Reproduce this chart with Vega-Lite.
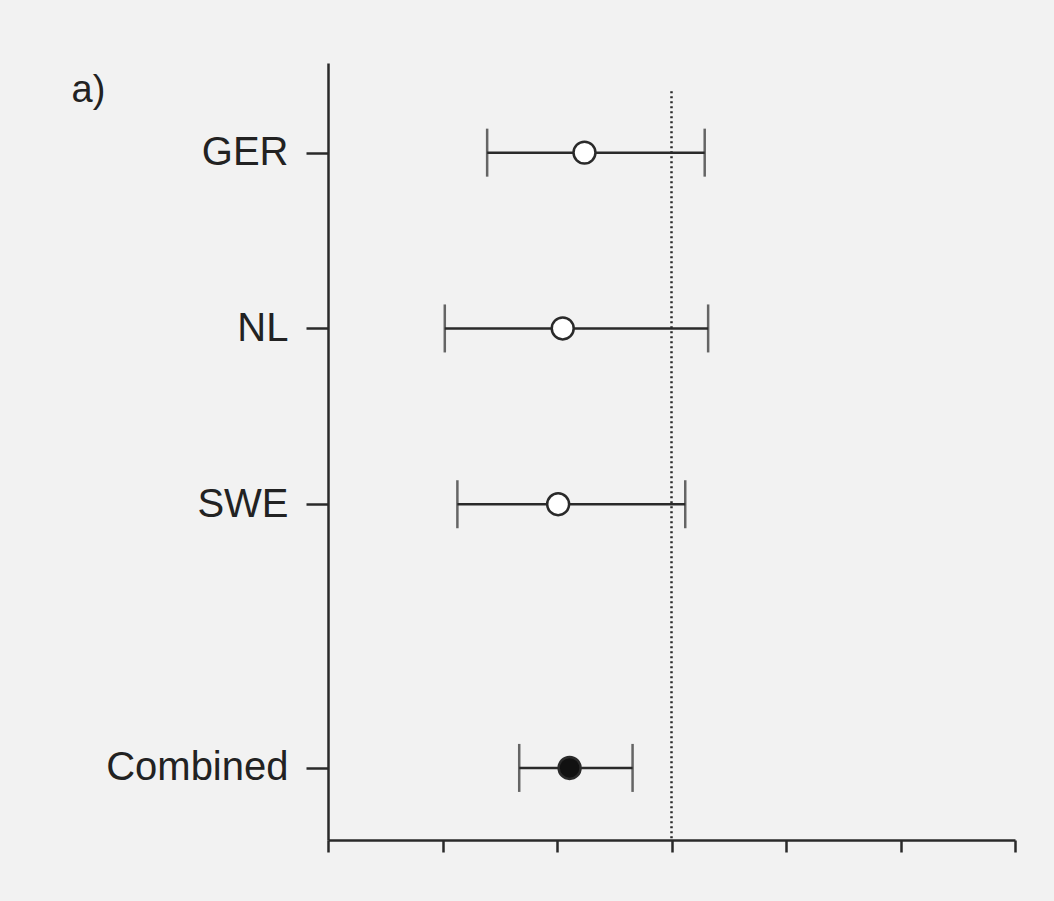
{
  "$schema": "https://vega.github.io/schema/vega-lite/v6.json",
  "autosize": {"type": "none"},
  "width": 687,
  "height": 777,
  "padding": {"left": 328, "top": 63, "right": 39, "bottom": 61},
  "background": "#f2f2f2",
  "config": {
    "view": {"stroke": null},
    "font": "Liberation Sans",
    "axis": {"grid": false, "domainColor": "#2a2a2a", "domainWidth": 2.5, "tickColor": "#2a2a2a", "tickWidth": 2.5}
  },
  "data": {
    "values": [
      {"group": "GER", "row": 3, "lo": 1.39, "est": 2.24, "hi": 3.29, "kind": "single"},
      {"group": "NL", "row": 2, "lo": 1.02, "est": 2.05, "hi": 3.32, "kind": "single"},
      {"group": "SWE", "row": 1, "lo": 1.13, "est": 2.01, "hi": 3.12, "kind": "single"},
      {"group": "Combined", "row": -0.5, "lo": 1.67, "est": 2.11, "hi": 2.66, "kind": "combined"}
    ]
  },
  "layer": [
    {
      "mark": {"type": "rule", "color": "#2a2a2a", "strokeWidth": 2.5},
      "encoding": {
        "x": {
          "field": "lo", "type": "quantitative",
          "scale": {"domain": [0, 6], "nice": false, "zero": false},
          "axis": {"title": null, "values": [0, 1, 2, 3, 4, 5, 6], "labels": false, "tickSize": 12}
        },
        "x2": {"field": "hi"},
        "y": {
          "field": "row", "type": "quantitative",
          "scale": {"domain": [-0.91, 3.51], "nice": false, "zero": false},
          "axis": {
            "title": null,
            "values": [3, 2, 1, -0.5],
            "labelExpr": "datum.value == 3 ? 'GER' : datum.value == 2 ? 'NL' : datum.value == 1 ? 'SWE' : 'Combined'",
            "labelFontSize": 40,
            "labelColor": "#222222",
            "labelPadding": 18,
            "labelLimit": 400,
            "tickSize": 22
          }
        }
      }
    },
    {
      "mark": {"type": "tick", "orient": "vertical", "size": 48, "thickness": 2.5, "color": "#2a2a2a"},
      "encoding": {
        "x": {"field": "lo", "type": "quantitative"},
        "y": {"field": "row", "type": "quantitative"}
      }
    },
    {
      "mark": {"type": "tick", "orient": "vertical", "size": 48, "thickness": 2.5, "color": "#2a2a2a"},
      "encoding": {
        "x": {"field": "hi", "type": "quantitative"},
        "y": {"field": "row", "type": "quantitative"}
      }
    },
    {
      "data": {"values": [{"ref": 3}]},
      "mark": {"type": "rule", "color": "#2a2a2a", "strokeWidth": 2.5, "strokeDash": [2, 3]},
      "encoding": {
        "x": {"field": "ref", "type": "quantitative"},
        "y": {"datum": 3.35},
        "y2": {"datum": -0.91}
      }
    },
    {
      "mark": {"type": "point", "shape": "circle", "filled": false, "size": 480, "strokeWidth": 2.5, "stroke": "#2a2a2a", "opacity": 1},
      "encoding": {
        "x": {"field": "est", "type": "quantitative"},
        "y": {"field": "row", "type": "quantitative"},
        "fill": {
          "field": "kind", "type": "nominal",
          "scale": {"domain": ["single", "combined"], "range": ["#ffffff", "#111111"]},
          "legend": null
        }
      }
    },
    {
      "data": {"values": [{"label": "a)"}]},
      "mark": {"type": "text", "align": "left", "baseline": "alphabetic", "fontSize": 38, "color": "#222222", "clip": false},
      "encoding": {
        "x": {"datum": -2.24},
        "y": {"datum": 3.29},
        "text": {"field": "label"}
      }
    }
  ]
}
